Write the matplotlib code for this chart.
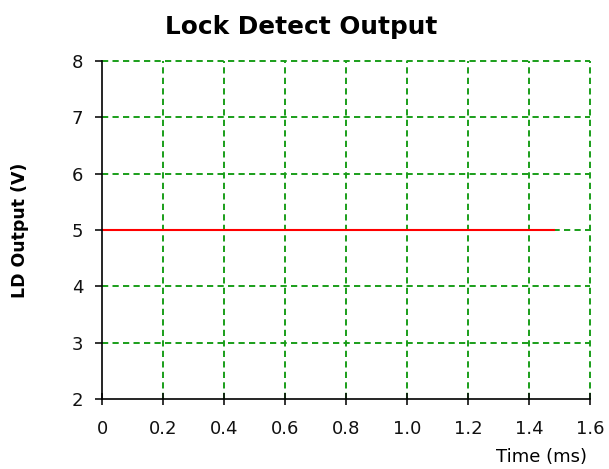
import numpy as np
import matplotlib.pyplot as plt

plt.rcParams['font.family'] = ['DejaVu Sans']

# data
tiempo = [0.0, 1.48]
ld_salida = [5.0, 5.0]
x_ticks = [0, 0.2, 0.4, 0.6, 0.8, 1.0, 1.2, 1.4, 1.6]
x_labels = ['0', '0.2', '0.4', '0.6', '0.8', '1.0', '1.2', '1.4', '1.6']
y_ticks = [2, 3, 4, 5, 6, 7, 8]

fig = plt.figure(figsize=(6.09, 4.69), dpi=100)
ax = fig.add_axes([0.1675, 0.1492, 0.8018, 0.7207])

ax.plot(tiempo, ld_salida, color='#ff0000', lw=1.5, zorder=3)

ax.set_xlim(0, 1.6)
ax.set_ylim(2, 8)
ax.set_xticks(x_ticks)
ax.set_xticklabels(x_labels)
ax.set_yticks(y_ticks)
ax.tick_params(axis='x', direction='inout', length=9, width=1.2, labelsize=13, pad=10.5, colors='#111111')
ax.tick_params(axis='y', direction='out', length=5, width=1.2, labelsize=13, pad=8.5, colors='#111111')
ax.set_axisbelow(True)
ax.grid(True, color='#1a9e1a', linestyle=(0, (3.2, 2.2)), lw=1.4)
for gl in ax.get_xgridlines() + ax.get_ygridlines():
    gl.set_clip_on(False)
# no dashed line over the axis lines themselves
ax.get_xgridlines()[0].set_visible(False)
ax.get_ygridlines()[0].set_visible(False)

for s in ['top', 'right']:
    ax.spines[s].set_visible(False)
for s in ['left', 'bottom']:
    ax.spines[s].set_linewidth(1.2)
    ax.spines[s].set_zorder(4)

fig.text(0.494, 0.942, 'Lock Detect Output', fontsize=17.8, fontweight='bold', ha='center', va='center')
ax.set_ylabel('LD Output (V)', fontsize=12.5, fontweight='bold', va='center')
ax.yaxis.set_label_coords(-0.168, 0.5)
ax.set_xlabel('Time (ms)', fontsize=13, va='center')
ax.xaxis.set_label_coords(0.9, -0.172)

fig.savefig('out.png', dpi=100)
